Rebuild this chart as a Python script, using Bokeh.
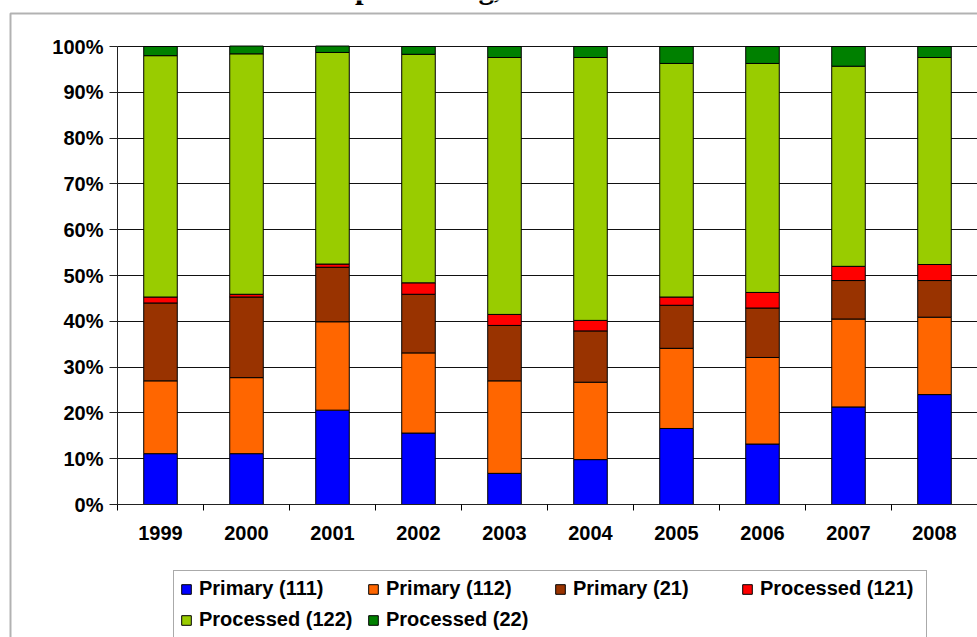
from bokeh.plotting import figure
from bokeh.models import (ColumnDataSource, FixedTicker, PrintfTickFormatter,
                          CustomJSTickFormatter, Legend, LegendItem,
                          BoxAnnotation, Label, Range1d)
from bokeh.embed import file_html
from bokeh.resources import INLINE

# Share of exports by BEC category (percent of total), 1999-2008
years = ["1999", "2000", "2001", "2002", "2003", "2004", "2005", "2006", "2007", "2008"]
primary_111 = [11.1, 11.1, 20.6, 15.6, 6.8, 9.8, 16.6, 13.2, 21.3, 24.0]
primary_112 = [15.9, 16.6, 19.3, 17.5, 20.2, 16.9, 17.5, 18.9, 19.2, 16.9]
primary_21 = [17.0, 17.6, 11.9, 12.8, 12.1, 11.2, 9.4, 10.8, 8.4, 8.0]
processed_121 = [1.3, 0.6, 0.7, 2.5, 2.4, 2.3, 1.8, 3.4, 3.1, 3.5]
processed_122 = [52.7, 52.5, 46.2, 49.9, 56.1, 57.4, 51.0, 50.0, 43.7, 45.2]
processed_22 = [2.0, 1.7, 1.4, 1.7, 2.4, 2.4, 3.7, 3.7, 4.3, 2.4]

series_labels = ["Primary (111)", "Primary (112)", "Primary (21)",
                 "Processed (121)", "Processed (122)", "Processed (22)"]
series_keys = ["p111", "p112", "p21", "q121", "q122", "q22"]
series_colors = ["#0000FF", "#FF6600", "#993300", "#FF0000", "#99CC00", "#008000"]
y_ticks = list(range(0, 101, 10))

source = ColumnDataSource(dict(
    x=[i + 0.5 for i in range(len(years))],
    p111=primary_111, p112=primary_112, p21=primary_21,
    q121=processed_121, q122=processed_122, q22=processed_22,
))

FONT = "Liberation Sans"
W, H = 977, 637
# page-pixel placement of the plotting area
PLOT_LEFT, PLOT_RIGHT = 117, 977
PLOT_TOP, PLOT_BOTTOM = 46, 504

px_per_x = (PLOT_RIGHT - PLOT_LEFT) / len(years)
px_per_y = (PLOT_BOTTOM - PLOT_TOP) / 100.0
def dx(px):
    return (px - PLOT_LEFT) / px_per_x
def dy(py):
    return (PLOT_BOTTOM - py) / px_per_y

# the frame spans the whole page; axes sit at fixed data locations
p = figure(width=W, height=H, output_backend="svg", toolbar_location=None,
           x_range=Range1d(dx(0), dx(W)), y_range=Range1d(dy(H), dy(0)),
           min_border=0)
p.background_fill_color = "white"
p.border_fill_color = "white"
p.outline_line_color = None

bars = p.vbar_stack(series_keys, x="x", width=0.39, source=source,
                    fill_color=series_colors, line_color="black", line_width=1)

# y axis: percent scale
p.yaxis.fixed_location = 0
p.yaxis.bounds = (0, 100)
p.yaxis.ticker = FixedTicker(ticks=y_ticks)
p.yaxis.formatter = PrintfTickFormatter(format="%d%%")
p.yaxis.major_tick_out = 8
p.yaxis.major_tick_in = 0
p.yaxis.major_tick_line_color = "#222222"
p.yaxis.minor_tick_line_color = None
p.yaxis.major_label_standoff = 6

# x axis: labels at category centres, tick marks on category boundaries
p.xaxis.fixed_location = 0
p.xaxis.bounds = (0, len(years))
p.xaxis.ticker = FixedTicker(ticks=[i + 0.5 for i in range(len(years))],
                             minor_ticks=list(range(len(years) + 1)))
p.xaxis.formatter = CustomJSTickFormatter(args=dict(labels=years),
                                          code="return labels[Math.floor(tick)] || ''")
p.xaxis.major_tick_line_color = None
p.xaxis.major_tick_out = 6
p.xaxis.major_tick_in = 0
p.xaxis.minor_tick_out = 6
p.xaxis.minor_tick_in = 0
p.xaxis.minor_tick_line_color = "black"
p.xaxis.major_label_standoff = 15

for ax in (p.xaxis, p.yaxis):
    ax.axis_line_color = "#222222"
    ax.major_label_text_font = FONT
    ax.major_label_text_font_style = "bold"
    ax.major_label_text_font_size = "20px"
    ax.major_label_text_color = "black"

p.xgrid.visible = False
p.ygrid.ticker = FixedTicker(ticks=y_ticks)
p.ygrid.bounds = (0, 100)
p.ygrid.cross_bounds = (0, len(years))
p.ygrid.grid_line_color = "#111111"
p.ygrid.grid_line_width = 1

# legend below the plot area, filled row by row
LEG_LEFT, LEG_TOP, LEG_H = 173, 569, 69
legend = Legend(
    items=[LegendItem(label=lbl, renderers=[r]) for lbl, r in zip(series_labels, bars)],
    location=(LEG_LEFT, H - LEG_TOP - LEG_H), orientation="horizontal", ncols=4,
    label_text_font=FONT, label_text_font_style="bold", label_text_font_size="20px",
    label_text_color="black", label_standoff=7, label_height=22, label_width=160,
    glyph_width=12, glyph_height=12, padding=6, spacing=8, margin=0,
    border_line_color="#555555", border_line_width=1,
    background_fill_color="white", background_fill_alpha=1,
)
p.add_layout(legend)

# chart area border
p.add_layout(BoxAnnotation(left=dx(10), right=dx(W + 20), top=dy(13), bottom=dy(H + 20),
                           fill_alpha=0, line_color="black", line_width=2, level="overlay"))

# chart title (second line)
p.add_layout(Label(x=dx(499), y=dy(-13), text="processing, 1999-2008",
                   text_font="Liberation Serif", text_font_style="bold",
                   text_font_size="31px", text_align="center",
                   text_baseline="alphabetic", text_color="black"))

open("out.html", "w").write(file_html(p, INLINE))
